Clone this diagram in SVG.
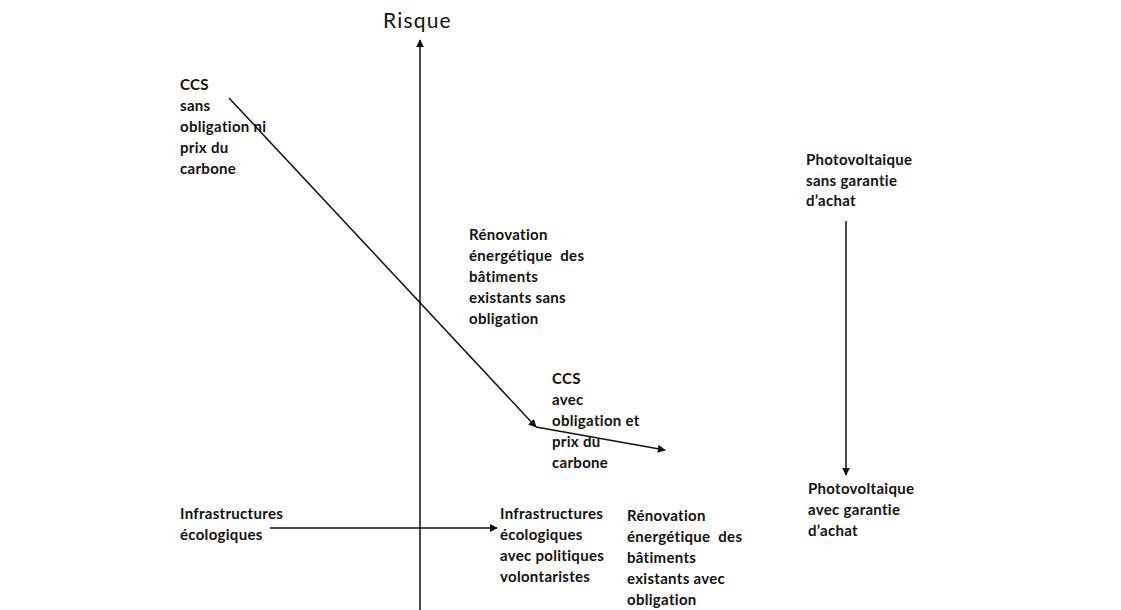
<svg xmlns="http://www.w3.org/2000/svg" width="1121" height="610" viewBox="0 0 1121 610">
<style>
.t{font-family:Lato,"Open Sans","Liberation Sans",sans-serif;font-size:15px;font-weight:bold;letter-spacing:0.3px;fill:#111;white-space:pre}
.title{font-family:Lato,"Open Sans","Liberation Sans",sans-serif;font-size:21px;letter-spacing:1.2px;fill:#111}
.c{stroke:#111;stroke-width:1.5;fill:none;marker-end:url(#ah)}
</style>
<defs>
<marker id="ah" viewBox="0 0 10 10" refX="9" refY="5" markerWidth="8" markerHeight="8" markerUnits="userSpaceOnUse" orient="auto">
<path d="M0,0 L10,5 L0,10 z" fill="#111"/>
</marker>
</defs>
<rect width="1121" height="610" fill="#fff"/>
<g id="axis">
<text class="title" x="383" y="28">Risque</text>
</g>
<g id="connectors">
<line class="c" x1="420" y1="610" x2="420" y2="40"/>
<line class="c" x1="229" y1="98" x2="536" y2="427"/>
<polyline class="c" points="536,427 665,450"/>
<line class="c" x1="270" y1="528" x2="497" y2="528"/>
<line class="c" x1="846" y1="221" x2="846" y2="475"/>
</g>
<g id="ccs-sans">
<text class="t"><tspan x="180" y="90">CCS</tspan><tspan x="180" y="111">sans</tspan><tspan x="180" y="132">obligation ni</tspan><tspan x="180" y="153">prix du</tspan><tspan x="180" y="174">carbone</tspan></text>
</g>
<g id="renov-sans">
<text class="t"><tspan x="469" y="240">Rénovation</tspan><tspan x="469" y="261">énergétique  des</tspan><tspan x="469" y="282">bâtiments</tspan><tspan x="469" y="303">existants sans</tspan><tspan x="469" y="324">obligation</tspan></text>
</g>
<g id="ccs-avec">
<text class="t"><tspan x="552" y="384">CCS</tspan><tspan x="552" y="405">avec</tspan><tspan x="552" y="426">obligation et</tspan><tspan x="552" y="447">prix du</tspan><tspan x="552" y="468">carbone</tspan></text>
</g>
<g id="pv-sans">
<text class="t"><tspan x="806" y="165">Photovoltaique</tspan><tspan x="806" y="186">sans garantie</tspan><tspan x="806" y="206">d’achat</tspan></text>
</g>
<g id="pv-avec">
<text class="t"><tspan x="808" y="494">Photovoltaique</tspan><tspan x="808" y="515">avec garantie</tspan><tspan x="808" y="536">d’achat</tspan></text>
</g>
<g id="infra">
<text class="t"><tspan x="180" y="519">Infrastructures</tspan><tspan x="180" y="540">écologiques</tspan></text>
</g>
<g id="infra-avec">
<text class="t"><tspan x="500" y="519">Infrastructures</tspan><tspan x="500" y="540">écologiques</tspan><tspan x="500" y="561">avec politiques</tspan><tspan x="500" y="582">volontaristes</tspan></text>
</g>
<g id="renov-avec">
<text class="t"><tspan x="627" y="521">Rénovation</tspan><tspan x="627" y="542">énergétique  des</tspan><tspan x="627" y="563">bâtiments</tspan><tspan x="627" y="584">existants avec</tspan><tspan x="627" y="605">obligation</tspan></text>
</g>
</svg>
